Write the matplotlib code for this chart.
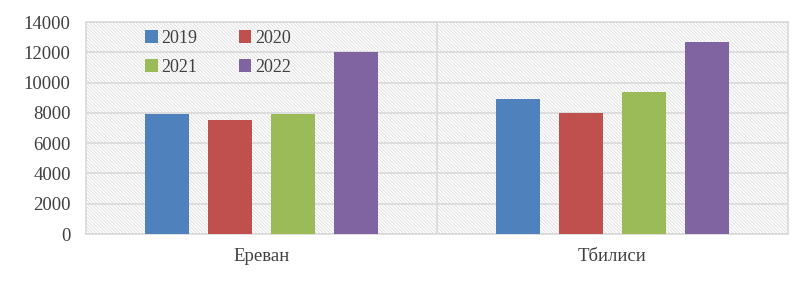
import numpy as np
import matplotlib.pyplot as plt
from matplotlib.patches import Rectangle

plt.rcParams['font.family'] = ['Liberation Serif', 'DejaVu Serif']
plt.rcParams['hatch.linewidth'] = 0.5

cities = ["Ереван", "Тбилиси"]
years = ["2019", "2020", "2021", "2022"]
v2019 = [7950, 8950]
v2020 = [7550, 8000]
v2021 = [7950, 9380]
v2022 = [12050, 12660]
colors = ["#4f81bd", "#c0504d", "#9bbb59", "#8064a2"]

series = [v2019, v2020, v2021, v2022]

fig = plt.figure(figsize=(8.11, 2.83), dpi=100)
ax = fig.add_axes([0.106, 0.173, 0.8656, 0.749])

# hatched plot-area background
bg = Rectangle((0, 0), 1, 1, transform=ax.transAxes, facecolor='white',
               edgecolor='#d6d6d6', linewidth=0, hatch='\\' * 10, zorder=0)
ax.add_patch(bg)

x = np.arange(len(cities))
w = 0.125
step = 0.18
bars = []
for i, vals in enumerate(series):
    b = ax.bar(x + (i - 1.5) * step, vals, width=w, color=colors[i], label=years[i], zorder=3)
    bars.append(b)

ax.set_xlim(-0.5, 1.5)
ax.set_ylim(0, 14000)
ax.set_yticks(np.arange(0, 14001, 2000))
ax.set_xticks(x)
ax.set_xticklabels(cities)
ax.grid(axis='y', color='#d9d9d9', linewidth=1.2, zorder=1)
ax.axvline(0.5, color='#d9d9d9', linewidth=1.2, zorder=1)
ax.set_axisbelow(True)
for s in ax.spines.values():
    s.set_color('#d9d9d9')
    s.set_linewidth(1.2)
ax.tick_params(axis='both', length=0, labelsize=13.5, colors='#404040')
ax.tick_params(axis='y', pad=11)
ax.tick_params(axis='x', pad=10)

order = [0, 2, 1, 3]
leg = ax.legend([bars[i] for i in order], [years[i] for i in order],
                loc='upper left', bbox_to_anchor=(0.061, 1.04), ncol=2, frameon=False,
                fontsize=13, handlelength=0.7, handleheight=0.7, handletextpad=0.2,
                columnspacing=2.3, labelspacing=0.65, labelcolor='#404040')

fig.savefig("out.png", dpi=100)
